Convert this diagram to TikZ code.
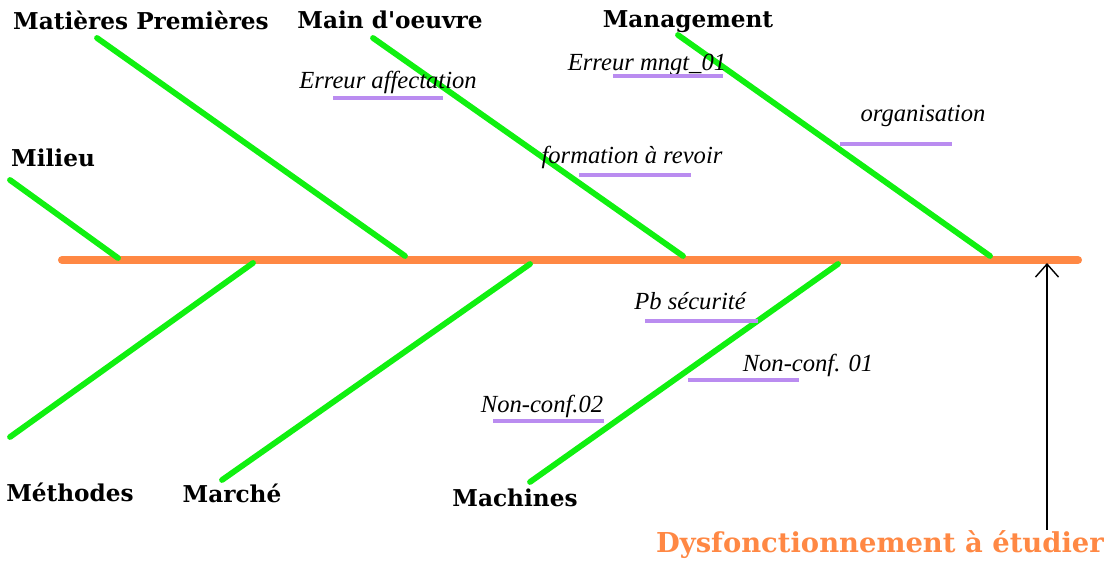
\documentclass[tikz,border=0pt]{standalone}
\usepackage{fontspec}
\setmainfont{Liberation Serif}
\newfontfamily\causefont{DejaVu Serif}
\usepackage{tikz}
\usetikzlibrary{arrows.meta,positioning}
\usepackage{xcolor}
\definecolor{fbgreen}{RGB}{16,240,16}
\definecolor{fborange}{RGB}{255,136,68}
\definecolor{fbpurple}{RGB}{186,140,240}
\tikzstyle{spine} = [line width=4.6pt, color=fborange, line cap=round]
\tikzstyle{bone} = [line width=3.3pt, color=fbgreen, line cap=round]
\tikzstyle{subline} = [line width=2.2pt, color=fbpurple]
\tikzstyle{effarrow} = [line width=0.8pt, -{Straight Barb[length=2.6mm,width=4.6mm]}]
\tikzstyle{cause} = [font=\causefont\bfseries\fontsize{13.2}{15}\selectfont, inner sep=0pt]
\tikzstyle{reason} = [font=\itshape\fontsize{14}{16}\selectfont, inner sep=0pt]
\tikzstyle{effect} = [font=\causefont\bfseries\fontsize{15.6}{18}\selectfont, text=fborange, inner sep=0pt]

\begin{document}
\begin{tikzpicture}[x=0.02cm, y=-0.02cm]
\useasboundingbox (0,0) rectangle (1116,563);
% Spine
\coordinate (spineL) at (62,260);
\coordinate (spineR) at (1078,260);
\draw[spine] (spineL) -- (spineR);

% Bones above
\coordinate (mpT) at (97,38);   \coordinate (mpB) at (405,256);
\coordinate (moT) at (373,38);  \coordinate (moB) at (683,256);
\coordinate (mgT) at (678,35);  \coordinate (mgB) at (990,256);
\coordinate (miT) at (10,180);  \coordinate (miB) at (118,258);
\draw[bone] (mpT) -- (mpB);
\draw[bone] (moT) -- (moB);
\draw[bone] (mgT) -- (mgB);
\draw[bone] (miT) -- (miB);

% Bones below
\coordinate (meT) at (253,263); \coordinate (meB) at (10,437);
\coordinate (maT) at (530,264); \coordinate (maB) at (222,480);
\coordinate (mcT) at (838,264); \coordinate (mcB) at (530,482);
\draw[bone] (meT) -- (meB);
\draw[bone] (maT) -- (maB);
\draw[bone] (mcT) -- (mcB);

% Causes
\node (matieres) [cause] at (141,20) {Matières Premières};
\node (mainoeuvre) [cause] at (390,20) {Main d'oeuvre};
\node (management) [cause] at (688,22) {Management};
\node (milieu) [cause] at (53,158) {Milieu};
\node (methodes) [cause] at (70,492) {Méthodes};
\node (marche) [cause] at (232,493) {Marché};
\node (machines) [cause] at (515,498) {Machines};

% Sub-causes
\node (affect) [reason] at (388,82) {Erreur affectation};
\node (mngt) [reason] at (647,65) {Erreur mngt\_01};
\node (orga) [reason] at (923,116) {organisation};
\node (formation) [reason] at (632,157) {formation à revoir};
\node (secu) [reason] at (690,301) {Pb sécurité};
\node (nc1) [reason] at (808,365) {Non-conf. 01};
\node (nc2) [reason] at (542,406) {Non-conf.02};

\coordinate (affectL) at (333,98);  \coordinate (affectR) at (443,98);
\coordinate (mngtL) at (613,76);    \coordinate (mngtR) at (723,76);
\coordinate (orgaL) at (840,144);   \coordinate (orgaR) at (952,144);
\coordinate (formL) at (579,175);   \coordinate (formR) at (691,175);
\coordinate (secuL) at (645,321);   \coordinate (secuR) at (758,321);
\coordinate (nc1L) at (688,380);    \coordinate (nc1R) at (799,380);
\coordinate (nc2L) at (493,421);    \coordinate (nc2R) at (604,421);
\draw[subline] (affectL) -- (affectR);
\draw[subline] (mngtL) -- (mngtR);
\draw[subline] (orgaL) -- (orgaR);
\draw[subline] (formL) -- (formR);
\draw[subline] (secuL) -- (secuR);
\draw[subline] (nc1L) -- (nc1R);
\draw[subline] (nc2L) -- (nc2R);

% Effect
\node (dysf) [effect] at (880,545) {Dysfonctionnement à étudier};
\coordinate (effBase) at (1047,530);
\coordinate (effTip) at (1047,263);
\draw[effarrow] (effBase) -- (effTip);
\end{tikzpicture}
\end{document}
